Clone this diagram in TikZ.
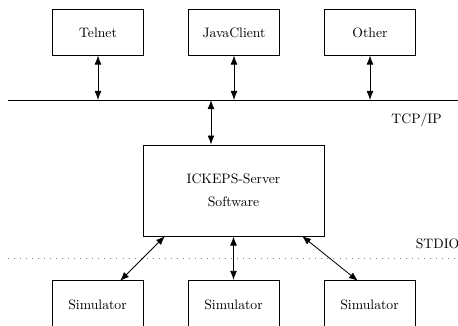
\documentclass[tikz,border=0pt]{standalone}
\usetikzlibrary{arrows.meta}
\begin{document}
\begin{tikzpicture}[x=0.73pt,y=-0.73pt,
  box/.style={draw, line width=0.6pt, minimum width=67pt, minimum height=33pt, inner sep=0pt},
  simbox/.style={draw, line width=0.6pt, minimum width=66.5pt, minimum height=36pt, inner sep=0pt},
  link/.style={line width=0.6pt, {Latex[length=6.6pt,width=5pt]}-{Latex[length=6.6pt,width=5pt]}},
  layer/.style={inner sep=0pt}]
\useasboundingbox (0,0) rectangle (458,326);

% client boxes
\node[box] (telnet) at (98,32.5) {Telnet};
\node[box] (java)   at (234,32.5) {JavaClient};
\node[box] (other)  at (370,32.5) {Other};

% TCP/IP bus
\coordinate (busL) at (8,100);
\coordinate (busR) at (458,100);
\draw[line width=0.7pt] (busL) -- (busR);
\node[layer, anchor=east] (tcp) at (442,120) {TCP/IP};

\coordinate (b1) at (98,100);
\coordinate (b2) at (234,100);
\coordinate (b3) at (370,100);
\coordinate (b4) at (211,100);
\draw[link] (telnet.south) -- (b1);
\draw[link] (java.south) -- (b2);
\draw[link] (other.south) -- (b3);

% server
\node[draw, line width=0.6pt, minimum width=132pt, minimum height=66.5pt, inner sep=0pt,
      align=center] (server) at (233.5,190.5) {ICKEPS-Server\\[5pt]Software};
\draw[link] (b4) -- (b4 |- server.north);

% STDIO layer
\coordinate (dotL) at (8,258);
\coordinate (dotR) at (458,258);
\draw[line width=0.6pt, gray, dash pattern=on 0.6pt off 3.8pt] (dotL) -- (dotR);
\node[layer, anchor=west] (stdio) at (415.5,244) {STDIO};

% simulators
\node[simbox] (sim1) at (97.5,305) {Simulator};
\node[simbox] (sim2) at (233.5,305) {Simulator};
\node[simbox] (sim3) at (369.5,305) {Simulator};

\coordinate (s1) at (165,236);
\coordinate (s3) at (302,236);
\coordinate (t1) at (120,281);
\coordinate (t3) at (358,281);
\draw[link] (s1) -- (t1);
\draw[link] (server.south -| sim2.north) -- (sim2.north);
\draw[link] (s3) -- (t3);
\end{tikzpicture}
\end{document}
